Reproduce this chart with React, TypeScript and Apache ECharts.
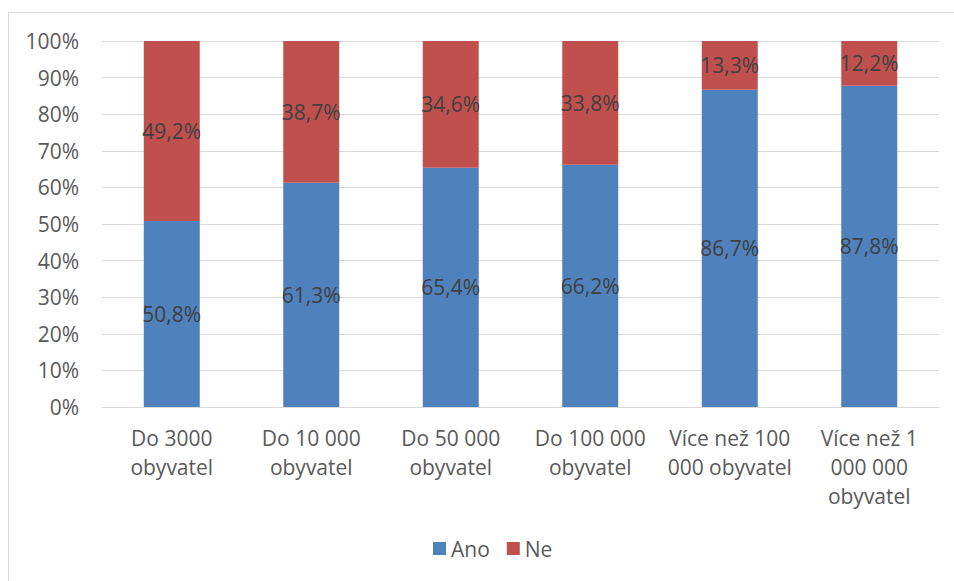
import React, { useEffect, useRef } from "react";
import * as echarts from "echarts";

const categories = [
  "Do 3000\nobyvatel",
  "Do 10 000\nobyvatel",
  "Do 50 000\nobyvatel",
  "Do 100 000\nobyvatel",
  "Více než 100\n000 obyvatel",
  "Více než 1\n000 000\nobyvatel",
];
const anoValues = [50.8, 61.3, 65.4, 66.2, 86.7, 87.8];
const neValues = [49.2, 38.7, 34.6, 33.8, 13.3, 12.2];
const seriesNames = ["Ano", "Ne"];

const FONT = "'Open Sans', 'Noto Sans', sans-serif";
const FS = 21;
const fmt = (v: number) => `${v.toFixed(1).replace(".", ",")}%`;

export default function App() {
  const ref = useRef<HTMLDivElement>(null);
  useEffect(() => {
    if (!ref.current) return;
    const chart = echarts.init(ref.current, undefined, { renderer: "svg" });
    const labelStyle = {
      show: true,
      position: "inside" as const,
      color: "#404040",
      fontSize: FS,
      fontFamily: FONT,
      formatter: (p: any) => fmt(p.value),
    };
    chart.setOption({
      animation: false,
      backgroundColor: "#ffffff",
      textStyle: { fontFamily: FONT },
      graphic: [
        {
          type: "rect",
          shape: { x: 8.5, y: 12.5, width: 1200, height: 1200 },
          style: { fill: "none", stroke: "#d9d9d9", lineWidth: 1 },
          silent: true,
        },
      ],
      grid: { left: 102, right: 15, top: 41, bottom: 174 },
      legend: {
        data: seriesNames,
        left: 433,
        top: 538,
        padding: 0,
        itemWidth: 13,
        itemHeight: 13,
        itemGap: 17,
        icon: "rect",
        textStyle: { color: "#595959", fontSize: FS, fontFamily: FONT },
      },
      xAxis: {
        type: "category",
        data: categories,
        axisLine: { lineStyle: { color: "#d9d9d9", width: 1 } },
        axisTick: { show: false },
        axisLabel: {
          color: "#595959",
          fontSize: FS,
          fontFamily: FONT,
          lineHeight: 29,
          margin: 16,
          interval: 0,
        },
      },
      yAxis: {
        type: "value",
        min: 0,
        max: 100,
        interval: 10,
        axisLine: { show: false },
        axisTick: { show: false },
        axisLabel: {
          formatter: "{value}%",
          color: "#595959",
          fontSize: FS,
          fontFamily: FONT,
          margin: 23,
        },
        splitLine: { lineStyle: { color: "#d9d9d9", width: 1 } },
      },
      series: [
        {
          name: seriesNames[0],
          type: "bar",
          stack: "total",
          data: anoValues,
          barWidth: 56,
          itemStyle: { color: "#4f81bd" },
          label: labelStyle,
        },
        {
          name: seriesNames[1],
          type: "bar",
          stack: "total",
          data: neValues,
          barWidth: 56,
          itemStyle: { color: "#c0504d" },
          label: labelStyle,
        },
      ],
    });
    return () => chart.dispose();
  }, []);
  return (
    <div
      ref={ref}
      style={{ position: "fixed", left: 0, top: 0, width: 954, height: 581 }}
    />
  );
}
